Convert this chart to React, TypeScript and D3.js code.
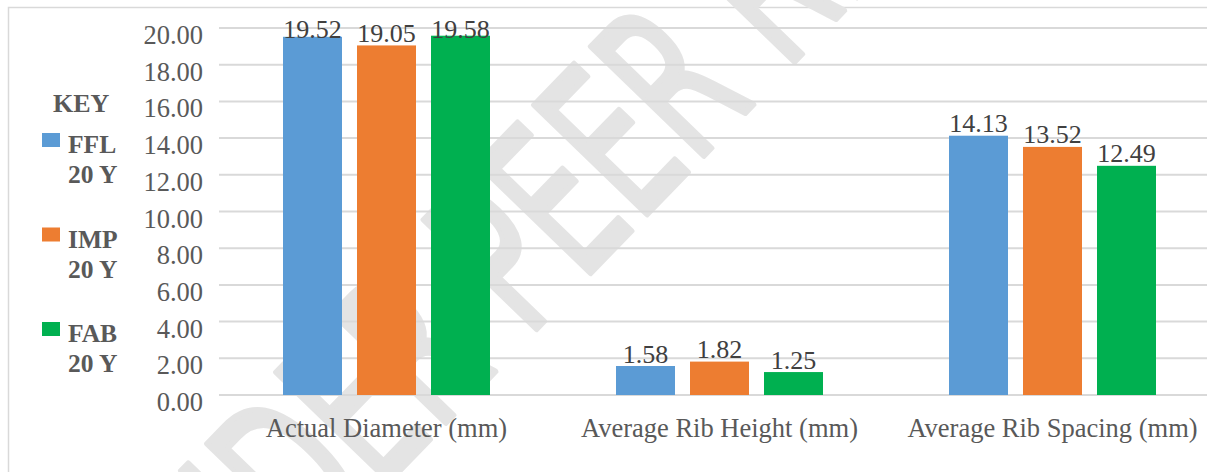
import React from "react";
import * as d3 from "d3";

const categories = ["Actual Diameter (mm)", "Average Rib Height (mm)", "Average Rib Spacing (mm)"];
const seriesNames = ["FFL 20 Y", "IMP 20 Y", "FAB 20 Y"];
const legendLines = [["FFL", "20 Y"], ["IMP", "20 Y"], ["FAB", "20 Y"]];
const colors = ["#5b9bd5", "#ed7d31", "#00b050"];
const ffl = [19.52, 1.58, 14.13];
const imp = [19.05, 1.82, 13.52];
const fab = [19.58, 1.25, 12.49];
const yTicks = [0, 2, 4, 6, 8, 10, 12, 14, 16, 18, 20];

const W = 1207;
const H = 472;
const serif = "Liberation Serif";

export default function App() {
  const values = [ffl, imp, fab];
  const plotLeft = 220;
  const groupW = 333;
  const x0 = d3.scaleBand<string>().domain(categories).range([plotLeft, plotLeft + groupW * categories.length]);
  const x1 = d3.scaleBand<string>().domain(seriesNames).range([63, groupW - 63]).paddingInner(15 / 74);
  const y = d3.scaleLinear().domain([0, 20]).range([395, 28]);

  const wm = "translate(178,700) rotate(-46) scale(0.6,1)";

  return (
    <svg width={W} height={H} style={{ position: "absolute", left: 0, top: 0, background: "#fff" }}>
      <rect x={0} y={0} width={W} height={H} fill="#fff" />
      <rect x={8.5} y={7.5} width={W + 20} height={H + 20} fill="none" stroke="#d9d9d9" strokeWidth={1.5} />
      <text
        transform={wm}
        fontFamily="DejaVu Sans"
        fontSize={215}
        fill="#e4e4e4"
        stroke="#e4e4e4"
        strokeWidth={5}
        strokeLinejoin="round"
        style={{ vectorEffect: "non-scaling-stroke" } as any}
      >
        UNDER PEER REVIEW
      </text>
      {yTicks.map((t) => (
        <g key={t}>
          <line x1={219} x2={W + 20} y1={y(t)} y2={y(t)} stroke="#d9d9d9" strokeWidth={2} />
          <text x={203} y={y(t) + 16} textAnchor="end" fontFamily={serif} fontSize={26.5} fill="#595959">
            {t.toFixed(2)}
          </text>
        </g>
      ))}
      {categories.map((c, ci) => (
        <g key={c} transform={`translate(${x0(c)},0)`}>
          {seriesNames.map((s, si) => {
            const v = values[si][ci];
            const top = y(v);
            return (
              <g key={s}>
                <rect x={x1(s)} y={top} width={x1.bandwidth()} height={y(0) - top} fill={colors[si]} />
                <text
                  x={(x1(s) as number) + x1.bandwidth() / 2}
                  y={Math.max(top - 3.5, 38)}
                  textAnchor="middle"
                  fontFamily={serif}
                  fontSize={26}
                  fill="#404040"
                >
                  {v.toFixed(2)}
                </text>
              </g>
            );
          })}
          <text x={groupW / 2} y={437} textAnchor="middle" fontFamily={serif} fontSize={26.5} fill="#595959">
            {c}
          </text>
        </g>
      ))}
      <text x={53} y={111.5} fontFamily={serif} fontWeight="bold" fontSize={26} fill="#595959">
        KEY
      </text>
      {legendLines.map((lines, i) => (
        <g key={i} transform={`translate(0,${i * 94.5})`}>
          <rect x={42} y={133} width={18} height={14} fill={colors[i]} />
          <text x={68} y={153} fontFamily={serif} fontWeight="bold" fontSize={25.5} fill="#595959">
            {lines[0]}
          </text>
          <text x={68} y={183} fontFamily={serif} fontWeight="bold" fontSize={25.5} fill="#595959">
            {lines[1]}
          </text>
        </g>
      ))}
    </svg>
  );
}
